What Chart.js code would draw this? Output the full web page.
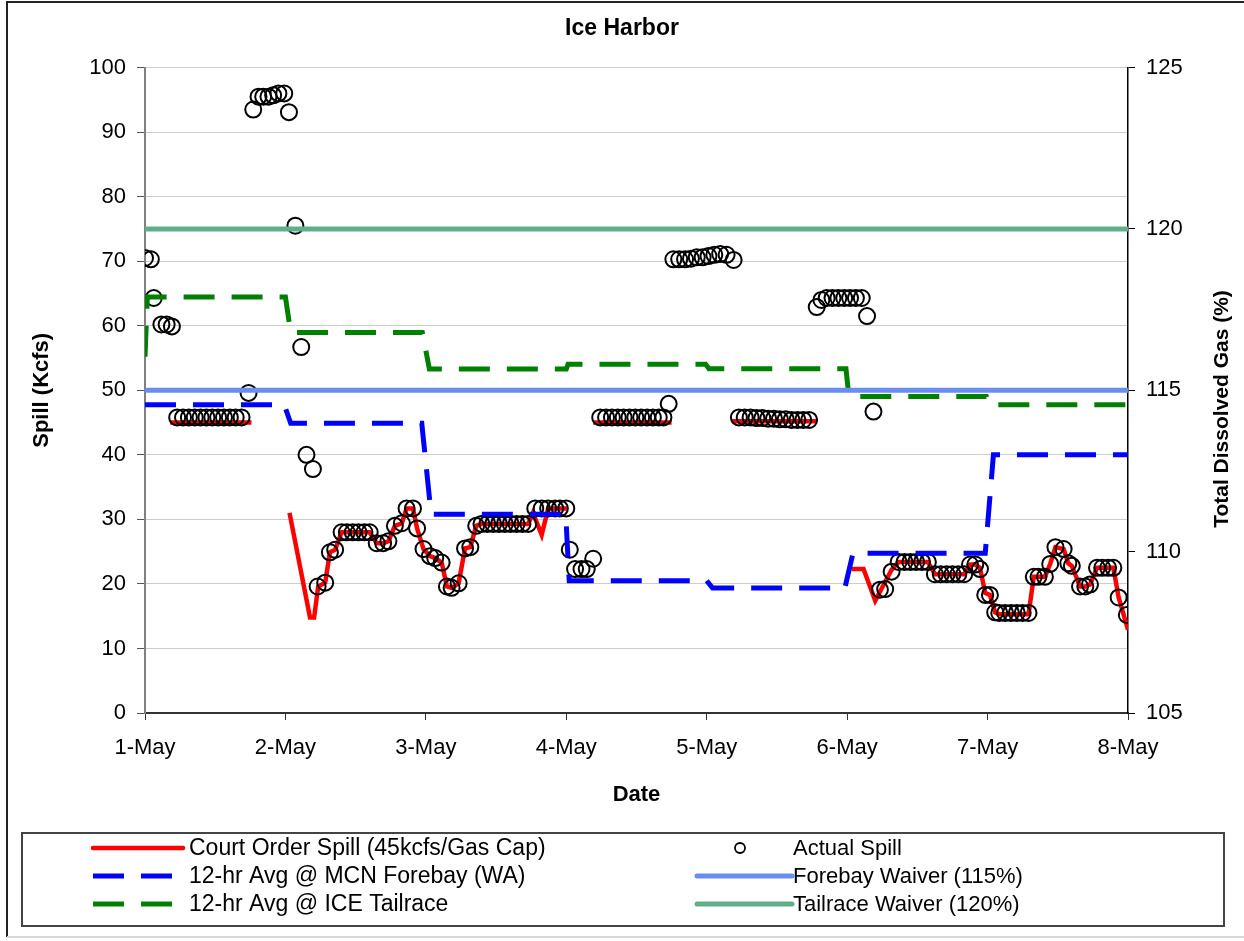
<!DOCTYPE html>
<html>
<head>
<meta charset="utf-8">
<title>Ice Harbor</title>
<script src="https://cdn.jsdelivr.net/npm/chart.js@4.4.1/dist/chart.umd.min.js"></script>
<style>
  html, body { margin: 0; padding: 0; background: #fff; overflow: hidden; }
  canvas { display: block; }
</style>
</head>
<body>
<canvas id="chart" width="1244" height="941"></canvas>
<script>
// ====== Data (hours after 1-May 00:00) ======
const dayLabels = ["1-May", "2-May", "3-May", "4-May", "5-May", "6-May", "7-May", "8-May"];

// Actual Spill (Kcfs)
const actualHours = [0, 1, 1.5, 2.8, 3.7, 4.6,
  5.5, 6.5, 7.5, 8.5, 9.5, 10.5, 11.5, 12.5, 13.5, 14.5, 15.5, 16.5,
  17.7, 18.5, 19.4, 20.2, 21.1, 21.9, 22.8, 23.8, 24.6, 25.7, 26.7, 27.6, 28.7,
  29.5, 30.8, 31.6, 32.5,
  33.6, 34.5, 35.5, 36.5, 37.5, 38.4,
  39.6, 40.7, 41.6, 42.7, 43.9, 44.7, 45.8, 46.5, 47.6, 48.7, 49.6, 50.7,
  51.6, 52.4, 53.6, 54.7, 55.6, 56.6,
  57.5, 58.5, 59.5, 60.5, 61.5, 62.5, 63.5, 64.5, 65.5,
  66.7, 67.8, 68.9, 70.1, 70.9, 72.0,
  72.6, 73.5, 74.6, 75.5, 76.6,
  77.8, 78.8, 79.8, 80.8, 81.8, 82.8, 83.8, 84.8, 85.8, 86.8, 87.8, 88.6,
  89.5,
  90.3, 91.3, 92.3, 93.3, 94.3, 95.3, 96.3, 97.3, 98.3, 99.4, 100.6,
  101.5, 102.5, 103.5, 104.5, 105.5, 106.5, 107.5, 108.5, 109.5, 110.5, 111.5, 112.5, 113.5,
  114.8, 115.6, 116.5, 117.5, 118.5, 119.5, 120.5, 121.5, 122.5, 123.4,
  124.5, 125.6, 126.5, 127.6,
  128.8, 129.8, 130.8, 131.8, 132.8, 133.8,
  135, 136, 137, 138, 139, 140,
  141, 141.9, 142.7, 143.6, 144.4, 145.3,
  146, 147, 148, 149, 150, 151,
  151.9, 152.7, 153.8, 154.7, 155.6, 157, 157.8, 158.4,
  159.8, 160.7, 161.5,
  162.7, 163.6, 164.6, 165.5, 166.4, 167.8];
const actualSpill = [70.5, 70.3, 64.3, 60.2, 60.2, 59.9,
  45.8, 45.8, 45.8, 45.8, 45.8, 45.8, 45.8, 45.8, 45.8, 45.8, 45.8, 45.8,
  49.6, 93.5, 95.5, 95.5, 95.5, 95.7, 96.0, 96.0, 93.1, 75.5, 56.7, 40.0, 37.8,
  19.6, 20.2, 24.9, 25.3,
  28.0, 28.0, 28.0, 28.0, 28.0, 28.0,
  26.3, 26.3, 26.6, 29.0, 29.4, 31.7, 31.7, 28.6, 25.4, 24.3, 24.0, 23.3,
  19.6, 19.4, 20.1, 25.5, 25.7, 29.0,
  29.3, 29.3, 29.3, 29.3, 29.3, 29.3, 29.3, 29.3, 29.3,
  31.7, 31.7, 31.7, 31.7, 31.7, 31.7,
  25.3, 22.3, 22.3, 22.3, 23.9,
  45.8, 45.8, 45.8, 45.8, 45.8, 45.8, 45.8, 45.8, 45.8, 45.8, 45.8, 45.8,
  47.9,
  70.3, 70.3, 70.3, 70.4, 70.6, 70.6, 70.8, 71.0, 71.1, 71.0, 70.2,
  45.8, 45.8, 45.8, 45.7, 45.7, 45.6, 45.6, 45.5, 45.5, 45.4, 45.4, 45.4, 45.4,
  62.9, 64.0, 64.3, 64.3, 64.3, 64.3, 64.3, 64.3, 64.3, 61.5,
  46.7, 19.1, 19.2, 21.9,
  23.4, 23.4, 23.4, 23.4, 23.4, 23.4,
  21.5, 21.5, 21.5, 21.5, 21.5, 21.5,
  23.0, 23.0, 22.3, 18.3, 18.3, 15.6,
  15.5, 15.5, 15.5, 15.5, 15.5, 15.5,
  21.1, 21.1, 21.1, 23.1, 25.7, 25.4, 23.2, 22.8,
  19.6, 19.6, 19.9,
  22.5, 22.5, 22.5, 22.5, 17.9, 15.2];

// Court Order Spill (Kcfs), null = no line
const courtHours = [4.3, 18.2, 21,
  24.7, 28.2, 28.9, 29.6, 30.8, 31.6, 32.5, 33.6, 38.4, 39.6, 40.7, 41.6, 42.7, 43.9, 44.7, 45.8,
  46.5, 47.6, 48.7, 49.6, 50.7, 51.6, 52.4, 53.6, 54.7, 55.6, 56.6, 57.5, 65.5, 66.3, 67.8, 68.9, 72.1, 74,
  76.6, 90, 95,
  100.3, 114.8, 118,
  120.8, 122.8, 124.8, 125.9, 127.6, 128.8, 133.8, 135, 140, 141, 141.9, 142.7, 143.6, 144.4, 145.3,
  146, 151, 151.9, 152.7, 153.8, 154.7, 155.6, 157, 157.8, 158.4, 159.8, 160.7, 161.5, 162.7, 165.5, 166.4, 168];
const courtSpill = [45, 45, null,
  31.0, 14.8, 14.8, 19.6, 20.2, 24.9, 25.3, 28.0, 28.0, 26.3, 26.3, 26.6, 29.0, 29.4, 31.7, 31.7,
  28.6, 25.4, 24.3, 24.0, 23.3, 19.6, 19.4, 20.1, 25.5, 25.7, 29.0, 29.3, 29.3, 31.0, 27.6, 31.7, 31.7, null,
  45, 45, null,
  45.2, 45.2, null,
  22.3, 22.3, 17.4, 19.3, 22.2, 23.4, 23.4, 21.5, 21.5, 23.0, 23.0, 22.5, 18.6, 18.3, 15.6,
  15.3, 15.3, 21.1, 21.1, 21.1, 23.1, 25.7, 25.4, 23.2, 22.8, 19.6, 19.6, 19.9, 22.5, 22.5, 17.9, 12.9];

// 12-hr averages, Total Dissolved Gas (%)
const mcnHours = [0, 23.8, 24.9, 47.3, 48.9, 71.9, 72.5, 96, 97, 119.6, 121, 143.6, 145, 168];
const mcnTdg = [114.55, 114.55, 113.98, 113.98, 111.16, 111.16, 109.1, 109.1, 108.87, 108.87, 109.95, 109.95, 113.0, 113.0];
const iceHours = [0, 0.4, 24, 24.9, 47.4, 48.6, 72, 72.3, 95.8, 96.4, 119.8, 120.3, 143.8, 144.3, 168];
const iceTdg = [116.04, 117.89, 117.89, 116.79, 116.79, 115.66, 115.66, 115.81, 115.81, 115.67, 115.67, 114.81, 114.81, 114.55, 114.55];

// Waivers (%)
const waiverHours = [0, 168];
const forebayWaiver = [115, 115];
const tailraceWaiver = [120, 120];

const FONT = "'Liberation Sans', Arial, sans-serif";

function pairs(xs, ys) {
  return xs.map((x, i) => ({ x: x, y: ys[i] }));
}

// ====== Plugins ======
const frame = {
  id: "frame",
  beforeDraw(chart) {
    const ctx = chart.ctx;
    ctx.save();
    ctx.fillStyle = "#fff";
    ctx.fillRect(0, 0, chart.width, chart.height);
    ctx.strokeStyle = "#222";
    ctx.lineWidth = 2;
    ctx.beginPath();
    ctx.moveTo(7, 937);
    ctx.lineTo(7, 2);
    ctx.lineTo(chart.width, 2);
    ctx.stroke();
    ctx.strokeStyle = "#d8d8d8";
    ctx.beginPath();
    ctx.moveTo(7, 937);
    ctx.lineTo(chart.width, 937);
    ctx.stroke();
    ctx.restore();
  }
};

const rightTitle = {
  id: "rightTitle",
  afterDraw(chart) {
    const ctx = chart.ctx;
    ctx.save();
    ctx.translate(1222, 409);
    ctx.rotate(-Math.PI / 2);
    ctx.font = "bold 21px " + FONT;
    ctx.fillStyle = "#000";
    ctx.textAlign = "center";
    ctx.textBaseline = "middle";
    ctx.fillText("Total Dissolved Gas (%)", 0, 0);
    ctx.restore();
  }
};

// Two-column boxed legend like the original
const boxLegend = {
  id: "boxLegend",
  afterDraw(chart) {
    const ctx = chart.ctx;
    ctx.save();
    ctx.strokeStyle = "#444";
    ctx.lineWidth = 2;
    ctx.strokeRect(22, 833, 1202, 93);
    const rows = [848, 876, 904];
    ctx.textBaseline = "middle";
    ctx.textAlign = "left";
    chart.data.datasets.forEach((ds, i) => {
      const col = i % 2;
      const y = rows[Math.floor(i / 2)];
      const x0 = col ? 697 : 93;
      const x1 = col ? 792 : 183;
      const tx = col ? 793 : 189;
      if (ds.showLine === false) {
        ctx.strokeStyle = ds.pointBorderColor;
        ctx.lineWidth = 1.8;
        ctx.beginPath();
        ctx.arc(740, y, 5, 0, Math.PI * 2);
        ctx.stroke();
      } else {
        ctx.strokeStyle = ds.borderColor;
        ctx.lineWidth = ds.borderWidth;
        ctx.setLineDash(ds.borderDash || []);
        ctx.lineCap = ds.borderDash ? "butt" : "round";
        ctx.beginPath();
        ctx.moveTo(x0, y);
        ctx.lineTo(x1, y);
        ctx.stroke();
        ctx.setLineDash([]);
      }
      ctx.font = (col ? "22px " : "23px ") + FONT;
      ctx.fillStyle = "#000";
      ctx.fillText(ds.label, tx, y + 1);
    });
    ctx.restore();
  }
};

// ====== Chart ======
Chart.defaults.font.family = FONT;
Chart.defaults.font.size = 22;
Chart.defaults.color = "#000";

const ctx = document.getElementById("chart").getContext("2d");
new Chart(ctx, {
  type: "line",
  data: {
    datasets: [
      {
        label: "Court Order Spill (45kcfs/Gas Cap)",
        data: pairs(courtHours, courtSpill),
        yAxisID: "y",
        borderColor: "#ff0000",
        borderWidth: 4.5,
        pointRadius: 0,
        spanGaps: false,
        order: 6
      },
      {
        label: "Actual Spill",
        data: pairs(actualHours, actualSpill),
        yAxisID: "y",
        showLine: false,
        pointRadius: 8,
        pointBorderWidth: 2,
        pointBorderColor: "#000",
        pointBackgroundColor: "rgba(0,0,0,0)",
        order: 5
      },
      {
        label: "12-hr Avg @ MCN Forebay (WA)",
        data: pairs(mcnHours, mcnTdg),
        yAxisID: "y2",
        borderColor: "#0000ff",
        borderWidth: 5,
        borderDash: [31, 17],
        pointRadius: 0,
        order: 4
      },
      {
        label: "Forebay Waiver (115%)",
        data: pairs(waiverHours, forebayWaiver),
        yAxisID: "y2",
        borderColor: "#6a8ef0",
        borderWidth: 5,
        pointRadius: 0,
        order: 2
      },
      {
        label: "12-hr Avg @ ICE Tailrace",
        data: pairs(iceHours, iceTdg),
        yAxisID: "y2",
        borderColor: "#008000",
        borderWidth: 5,
        borderDash: [31, 17],
        pointRadius: 0,
        order: 3
      },
      {
        label: "Tailrace Waiver (120%)",
        data: pairs(waiverHours, tailraceWaiver),
        yAxisID: "y2",
        borderColor: "#5fb08a",
        borderWidth: 5,
        pointRadius: 0,
        order: 1
      }
    ]
  },
  options: {
    responsive: false,
    animation: false,
    devicePixelRatio: 1,
    layout: { padding: { left: 0, right: 0, top: 0, bottom: 128 } },
    elements: { line: { tension: 0 } },
    plugins: {
      legend: { display: false },
      tooltip: { enabled: false },
      title: {
        display: true,
        text: "Ice Harbor",
        font: { size: 23, weight: "bold" },
        padding: { top: 15, bottom: 25 }
      }
    },
    scales: {
      x: {
        type: "linear",
        min: 0,
        max: 168,
        grid: { drawOnChartArea: false, drawTicks: true, tickLength: 7, tickColor: "#333" },
        border: { color: "#333", width: 2 },
        ticks: {
          stepSize: 24,
          padding: 15,
          maxRotation: 0,
          callback: v => dayLabels[v / 24]
        },
        title: { display: true, text: "Date", font: { size: 22, weight: "bold" }, padding: { top: 0, bottom: 5 } },
        afterFit: s => { s.height = 100; }
      },
      y: {
        position: "left",
        min: 0,
        max: 100,
        grid: { color: "#cccccc", lineWidth: 1, tickLength: 8, tickColor: "#555" },
        border: { color: "#808080", width: 2 },
        ticks: { stepSize: 10, padding: 11 },
        title: { display: true, text: "Spill (Kcfs)", font: { size: 22, weight: "bold" }, padding: { top: 29, bottom: 0 } },
        afterFit: s => { s.width = 145; }
      },
      y2: {
        position: "right",
        min: 105,
        max: 125,
        grid: { drawOnChartArea: false, tickLength: 7, tickColor: "#000" },
        border: { color: "#000", width: 1.5 },
        ticks: { stepSize: 5, padding: 11 },
        afterFit: s => { s.width = 116; }
      }
    }
  },
  plugins: [frame, rightTitle, boxLegend]
});
</script>
</body>
</html>
